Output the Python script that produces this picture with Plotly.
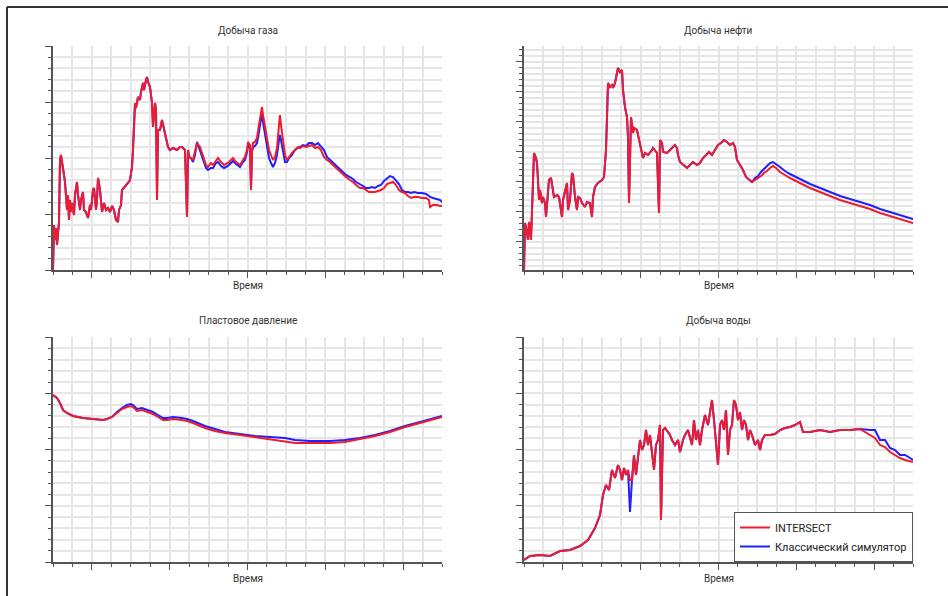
import plotly.graph_objects as go

# ---------------- data (arbitrary units, axis labels hidden as in the source) ----------------
# Panel 1: gas production
gas_t = [0, 1, 2, 3, 4, 5, 6, 7, 8, 9, 10, 11, 12, 13, 14, 15, 16, 17, 18, 19, 21, 22, 23, 24, 25, 27, 28, 30, 31, 33,
         35, 37, 38, 40, 41, 43, 44, 45, 47, 48, 49, 51, 53, 55, 57, 59, 61, 63, 65, 66, 68, 69, 71, 73, 75, 77, 79, 80, 81, 82,
         83, 85, 87, 88, 90, 91, 93, 94, 95, 97, 98, 99, 100, 101, 102, 103, 104, 105, 107, 109, 112, 115, 117, 120, 124, 127, 129, 132, 134, 135,
         136, 138, 140, 142, 144, 147, 150, 153, 155, 158, 160, 163, 165, 168, 171, 175, 178, 180, 183, 187, 190, 192, 194, 195, 197, 198, 199, 200, 202, 204,
         206, 208, 209, 210, 212, 214, 216, 218, 220, 222, 224, 226, 227, 228, 230, 232, 234, 236, 239, 242, 245, 247, 250, 253, 256, 259, 262, 265, 268, 271,
         274, 277, 280, 283, 287, 290, 293, 297, 300, 303, 307, 310, 313, 316, 319, 322, 325, 328, 331, 334, 337, 340, 343, 346, 349, 352, 355, 358, 361, 365,
         369, 373, 376, 377, 380, 384, 387, 389]
gas_intersect = [0, 45, 30, 42, 25, 38, 48, 110, 115, 108, 103, 95, 88, 75, 60, 75, 50, 70, 58, 67, 55, 75, 84, 88, 75, 60, 70, 78, 60, 58,
                 52, 65, 60, 80, 82, 60, 70, 92, 80, 65, 58, 67, 60, 62, 58, 64, 60, 50, 48, 60, 65, 80, 82, 84, 87, 90, 103, 120, 150, 167,
                 162, 173, 170, 178, 187, 180, 190, 193, 188, 183, 175, 167, 143, 160, 167, 160, 70, 140, 140, 150, 137, 123, 120, 122, 120, 123, 123, 120, 53, 120,
                 113, 112, 110, 120, 127, 123, 113, 105, 103, 107, 105, 110, 112, 108, 105, 107, 110, 112, 108, 105, 110, 113, 120, 128, 125, 80, 120, 127, 128, 132,
                 145, 158, 163, 155, 143, 130, 120, 115, 110, 113, 122, 145, 155, 145, 130, 115, 110, 113, 117, 120, 123, 122, 124, 123, 124, 125, 122, 123, 120, 113,
                 110, 108, 105, 102, 98, 96, 93, 90, 88, 85, 82, 82, 80, 78, 78, 78, 79, 80, 82, 86, 87, 88, 85, 80, 78, 77, 74, 72, 73, 73,
                 72, 72, 70, 63, 65, 65, 64, 64]
gas_classic = [0, 45, 30, 42, 25, 38, 48, 110, 115, 108, 103, 95, 88, 75, 60, 75, 50, 70, 58, 67, 55, 75, 84, 88, 75, 60, 70, 78, 60, 58,
               52, 65, 60, 80, 82, 60, 70, 92, 80, 65, 58, 67, 60, 62, 58, 64, 60, 50, 48, 60, 65, 80, 82, 84, 87, 90, 103, 120, 150, 167,
               162, 173, 170, 178, 187, 180, 190, 193, 188, 183, 175, 167, 143, 160, 167, 160, 70, 140, 140, 150, 137, 123, 120, 122, 120, 123, 123, 120, 53, 120,
               113, 112, 108, 115, 128, 120, 110, 102, 100, 102, 102, 107, 108, 104, 102, 104, 107, 109, 106, 103, 108, 110, 118, 124, 123, 80, 118, 123, 124, 127,
               138, 152, 158, 148, 135, 122, 112, 107, 103, 107, 115, 130, 135, 130, 120, 108, 108, 112, 115, 120, 122, 123, 125, 124, 127, 127, 125, 127, 124, 120,
               113, 110, 107, 104, 100, 98, 95, 93, 91, 88, 86, 84, 82, 82, 83, 82, 84, 85, 89, 92, 94, 93, 90, 86, 80, 78, 78, 77, 78, 77,
               77, 76, 74, 73, 72, 71, 70, 68]

# Panel 2: oil production
oil_t = [0, 1, 3, 4, 5, 6, 7, 8, 9, 10, 12, 13, 14, 15, 16, 18, 19, 21, 22, 23, 25, 27, 29, 30, 33, 35, 38, 39, 43, 44,
         46, 48, 49, 51, 53, 54, 56, 58, 61, 63, 66, 68, 69, 71, 74, 78, 80, 82, 83, 84, 86, 88, 89, 91, 93, 94, 96, 98, 99, 101,
         103, 104, 105, 107, 109, 110, 113, 115, 118, 119, 121, 124, 128, 129, 133, 135, 136, 138, 139, 143, 146, 149, 151, 153, 154, 156, 159, 163, 166, 169,
         173, 176, 179, 182, 185, 188, 191, 194, 197, 200, 203, 206, 209, 211, 213, 216, 219, 222, 225, 228, 231, 234, 237, 240, 243, 246, 249, 252, 256, 261,
         266, 276, 286, 296, 306, 316, 326, 336, 346, 356, 366, 376, 389]
oil_intersect = [0, 47, 38, 30, 48, 42, 30, 58, 100, 117, 112, 107, 90, 70, 80, 67, 73, 67, 53, 67, 90, 92, 80, 73, 75, 73, 53, 70, 87, 60,
                 70, 97, 95, 73, 60, 73, 72, 67, 63, 68, 67, 53, 73, 83, 87, 90, 93, 120, 153, 187, 183, 185, 182, 187, 197, 202, 198, 200, 180, 163,
                 153, 133, 67, 153, 137, 142, 140, 130, 117, 112, 117, 115, 120, 122, 117, 57, 130, 127, 118, 117, 120, 123, 125, 122, 115, 108, 105, 102, 105, 108,
                 105, 107, 112, 115, 118, 115, 120, 125, 127, 130, 128, 125, 127, 123, 110, 105, 100, 93, 90, 88, 90, 92, 94, 97, 99, 102, 104, 102, 98, 95,
                 92, 87, 82, 78, 74, 70, 67, 64, 61, 57, 54, 51, 47]
oil_classic = [0, 47, 38, 30, 48, 42, 30, 58, 100, 117, 112, 107, 90, 70, 80, 67, 73, 67, 53, 67, 90, 92, 80, 73, 75, 73, 53, 70, 87, 60,
               70, 97, 95, 73, 60, 73, 72, 67, 63, 68, 67, 53, 73, 83, 87, 90, 93, 120, 153, 187, 183, 185, 182, 187, 197, 202, 198, 200, 180, 163,
               153, 133, 67, 153, 137, 142, 140, 130, 117, 112, 117, 115, 120, 122, 117, 57, 130, 127, 118, 117, 120, 123, 125, 122, 115, 108, 105, 102, 105, 108,
               105, 107, 112, 115, 118, 115, 120, 125, 127, 130, 128, 125, 127, 123, 110, 105, 100, 93, 90, 88, 92, 94, 98, 101, 104, 107, 108, 106, 103, 99,
               96, 91, 86, 82, 78, 74, 71, 68, 65, 61, 58, 55, 51]

# Panel 3: reservoir pressure
pres_t = [0, 4, 7, 10, 14, 20, 30, 40, 50, 54, 59, 64, 69, 74, 78, 80, 84, 89, 94, 100, 105, 110, 114, 120, 129, 134, 140, 145, 152, 162,
          172, 187, 202, 217, 232, 242, 257, 277, 292, 307, 322, 337, 352, 367, 379, 389]
pres_intersect = [167, 164, 159, 152, 149, 146, 144, 143, 142, 143, 145, 149, 153, 155, 156, 155, 151, 152, 150, 148, 145, 142, 142, 143, 142, 141, 139, 137, 134, 131,
                  129, 127, 125, 123, 121, 119, 119, 119, 120, 123, 126, 130, 135, 139, 142, 145]
pres_classic = [167, 164, 159, 152, 149, 146, 144, 143, 142, 143, 145, 150, 154, 157, 158, 157, 153, 154, 152, 150, 147, 144, 144, 145, 144, 143, 141, 139, 136, 133,
                130, 128, 126, 125, 124, 122, 121, 121, 122, 124, 127, 131, 136, 140, 143, 146]

# Panel 4: water production
wat_t = [0, 6, 16, 26, 36, 46, 56, 64, 71, 76, 79, 82, 85, 88, 91, 94, 96, 98, 100, 102, 104, 106, 108, 110, 112, 114, 116, 118, 120, 122,
         124, 126, 128, 130, 132, 134, 136, 137, 139, 141, 144, 146, 148, 151, 154, 156, 159, 161, 164, 166, 168, 170, 172, 174, 176, 178, 181, 184, 186, 188,
         190, 192, 194, 196, 198, 200, 202, 204, 206, 208, 210, 212, 214, 216, 218, 220, 222, 224, 226, 228, 231, 234, 236, 238, 241, 246, 251, 256, 261, 266,
         271, 276, 279, 286, 296, 306, 316, 326, 336, 346, 351, 356, 361, 366, 371, 376, 381, 386, 389]
wat_intersect = [2, 6, 7, 6, 11, 12, 16, 22, 34, 47, 67, 77, 72, 92, 84, 97, 92, 82, 94, 87, 92, 82, 82, 107, 87, 102, 122, 112, 117, 132,
                 117, 127, 112, 92, 117, 122, 137, 42, 132, 134, 130, 127, 122, 117, 122, 110, 122, 127, 132, 124, 117, 142, 122, 132, 117, 132, 147, 137, 152, 162,
                 142, 122, 97, 137, 142, 132, 152, 107, 132, 137, 162, 157, 142, 150, 132, 142, 137, 122, 132, 127, 117, 122, 112, 122, 127, 127, 128, 132, 134, 135,
                 137, 140, 130, 130, 132, 130, 132, 132, 133, 127, 124, 117, 115, 110, 107, 104, 102, 101, 100]
wat_classic = [2, 6, 7, 6, 11, 12, 16, 22, 34, 47, 67, 77, 72, 92, 84, 97, 92, 82, 94, 87, 92, 50, 82, 107, 87, 102, 122, 112, 117, 132,
               117, 127, 112, 92, 117, 122, 137, 42, 132, 134, 130, 127, 122, 117, 122, 110, 122, 127, 132, 124, 117, 142, 122, 132, 117, 132, 147, 137, 152, 162,
               142, 122, 97, 137, 142, 132, 152, 107, 132, 137, 162, 157, 142, 150, 132, 142, 137, 122, 132, 127, 117, 122, 112, 122, 127, 127, 128, 132, 134, 135,
               137, 140, 130, 130, 132, 130, 132, 132, 133, 132, 132, 122, 122, 114, 112, 107, 107, 104, 102]

titles = ["Добыча газа", "Добыча нефти", "Пластовое давление", "Добыча воды"]
x_title = "Время"
series_names = ["INTERSECT", "Классический симулятор"]

# ---------------- figure ----------------
W, H = 948, 596
RED = "#ee1c2e"
BLUE = "#1f1fff"
GRID = "#e6e6e6"
AXC = "#555555"
FONT = "Liberation Sans Narrow, Roboto, Arial, sans-serif"

def px_x(p):
    return p / W

def px_y(p):
    return 1 - p / H

panels = [
    dict(t=gas_t, r=gas_intersect, b=gas_classic, xd=[px_x(53), px_x(442)], yd=[px_y(270), px_y(46)],
         yr=[0, 224], ytick0=0, ydt=56, ymdt=11.2),
    dict(t=oil_t, r=oil_intersect, b=oil_classic, xd=[px_x(524), px_x(913)], yd=[px_y(270), px_y(46)],
         yr=[0, 224], ytick0=-1.7, ydt=30, ymdt=6),
    dict(t=pres_t, r=pres_intersect, b=pres_classic, xd=[px_x(53), px_x(442)], yd=[px_y(562), px_y(337)],
         yr=[0, 225], ytick0=0, ydt=56.25, ymdt=11.25),
    dict(t=wat_t, r=wat_intersect, b=wat_classic, xd=[px_x(524), px_x(913)], yd=[px_y(562), px_y(337)],
         yr=[0, 225], ytick0=0, ydt=56.25, ymdt=11.25),
]

fig = go.Figure()
layout = dict(
    width=W, height=H, margin=dict(l=0, r=0, t=0, b=0),
    paper_bgcolor="white", plot_bgcolor="white",
    font=dict(family=FONT, size=10, color="#333"),
    showlegend=True,
    legend=dict(x=px_x(913), xanchor="right", y=px_y(562), yanchor="bottom",
                bordercolor=AXC, borderwidth=1, bgcolor="white",
                font=dict(size=11, family=FONT, color="#222"), tracegroupgap=0,
                itemwidth=30),
)

annotations = []
for i, p in enumerate(panels):
    n = "" if i == 0 else str(i + 1)
    xa, ya = "x" + n, "y" + n
    fig.add_trace(go.Scatter(x=p["t"], y=p["b"], mode="lines", name=series_names[1],
                             line=dict(color=BLUE, width=2), xaxis=xa, yaxis=ya,
                             showlegend=(i == 0), legendrank=2))
    fig.add_trace(go.Scatter(x=p["t"], y=p["r"], mode="lines", name=series_names[0],
                             line=dict(color=RED, width=2), xaxis=xa, yaxis=ya,
                             showlegend=(i == 0), legendrank=1))
    layout["xaxis" + n] = dict(
        domain=p["xd"], anchor=ya, range=[0, 389],
        showline=True, linecolor=AXC, linewidth=1.5, mirror=False,
        ticks="outside", ticklen=6, tickwidth=1, tickcolor=AXC, showticklabels=False,
        tick0=38.9, dtick=77.8, showgrid=True, gridcolor=GRID, gridwidth=1.5, zeroline=False,
        minor=dict(ticks="outside", ticklen=3, tickcolor=AXC, tickwidth=1, tick0=0, dtick=19.45,
                   showgrid=True, gridcolor=GRID, gridwidth=1.5),
    )
    layout["yaxis" + n] = dict(
        domain=p["yd"], anchor=xa, range=p["yr"],
        showline=True, linecolor=AXC, linewidth=1.5, mirror=False,
        ticks="outside", ticklen=6, tickwidth=1, tickcolor=AXC, showticklabels=False,
        tick0=p["ytick0"], dtick=p["ydt"], showgrid=True, gridcolor=GRID, gridwidth=1.5, zeroline=False,
        minor=dict(ticks="outside", ticklen=3, tickcolor=AXC, tickwidth=1, tick0=p["ytick0"], dtick=p["ymdt"],
                   showgrid=True, gridcolor=GRID, gridwidth=1.5),
    )
    cx = (p["xd"][0] + p["xd"][1]) / 2
    annotations.append(dict(text=titles[i], x=cx, y=p["yd"][1] + 16 / H, xref="paper", yref="paper",
                            xanchor="center", yanchor="middle", showarrow=False,
                            font=dict(size=10, family=FONT, color="#333")))
    annotations.append(dict(text=x_title, x=cx, y=p["yd"][0] - 16 / H, xref="paper", yref="paper",
                            xanchor="center", yanchor="middle", showarrow=False,
                            font=dict(size=10, family=FONT, color="#333")))

layout["annotations"] = annotations
layout["shapes"] = [
    dict(type="line", xref="paper", yref="paper", x0=px_x(7), x1=1, y0=px_y(7), y1=px_y(7),
         line=dict(color="#333", width=2)),
    dict(type="line", xref="paper", yref="paper", x0=px_x(7), x1=px_x(7), y0=0, y1=px_y(7),
         line=dict(color="#333", width=2)),
]
fig.update_layout(**layout)
fig.write_html("out.html", config={"displayModeBar": False},
               post_script="document.body.style.margin='0';document.body.style.overflow='hidden';")
